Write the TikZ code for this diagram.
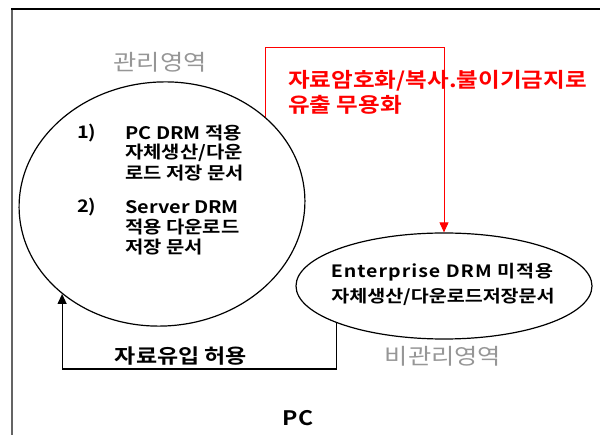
\documentclass[tikz,border=0pt]{standalone}
\usepackage{fontspec}
\usetikzlibrary{shapes.geometric,arrows.meta}
\setmainfont{Noto Sans CJK KR}[BoldFont={Noto Sans CJK KR Bold},FakeStretch=1.15]
\definecolor{zonegray}{RGB}{150,150,150}
\definecolor{framegray}{RGB}{100,100,100}
\definecolor{leakred}{RGB}{255,0,0}
\tikzset{
  zone/.style={draw, ellipse, line width=1.2pt, inner sep=0pt},
  zonelabel/.style={text=zonegray, font=\fontsize{22}{26}\selectfont, inner sep=0pt},
  doc/.style={anchor=west, font=\fontsize{17.3}{20}\selectfont\bfseries, inner sep=0pt},
  udoc/.style={font=\fontsize{17}{20}\selectfont\bfseries, inner sep=0pt},
  flow/.style={line width=1.1pt, -{Triangle[length=10pt,width=9pt]}},
}
\begin{document}
\begin{tikzpicture}[x=1pt,y=-1pt]
\useasboundingbox (0,0) rectangle (600,435);
\clip (0,0) rectangle (600,435);

% outer PC frame, running off the page at right and bottom
\coordinate (fl) at (12,440);
\coordinate (fc) at (12,9);
\coordinate (fr) at (605,9);
\draw[framegray, line width=1.5pt] (fl) -- (fc);
\draw[black, line width=1.5pt] (11.25,9) -- (fr);

% managed and unmanaged zones
\node[zone, minimum width=286pt, minimum height=244pt, rotate=4] (mgd) at (162,204) {};
\node[zone, minimum width=296pt, minimum height=106pt] (umg) at (444,286) {};

\node[zonelabel] (mgdlbl) at (160,62) {관리영역};
\node[zonelabel] (umglbl) at (443,356) {비관리영역};

% documents in the managed zone
\node[doc] (n1) at (77,133) {1)};
\node[doc] (d1a) at (125,133) {PC DRM 적용};
\node[doc] (d1b) at (125,153) {자체생산/다운};
\node[doc] (d1c) at (125,173) {로드 저장 문서};
\node[doc] (n2) at (77,207) {2)};
\node[doc] (d2a) at (125,207) {Server DRM};
\node[doc] (d2b) at (125,227) {적용 다운로드};
\node[doc] (d2c) at (125,247) {저장 문서};

% documents in the unmanaged zone
\node[udoc] (e1) at (442,272) {\addfontfeatures{LetterSpace=6}Enterprise DRM 미적용};
\node[udoc] (e2) at (443,297) {자체생산/다운로드저장문서};

% leakage path: managed -> unmanaged
\coordinate (rtop) at (0,47);
\draw[flow, leakred, line width=0.9pt] (mgd.36) -- (mgd.36 |- rtop) -| (umg.north);
\node[anchor=west, text=leakred, font=\fontsize{20.5}{25}\selectfont\bfseries, inner sep=0pt] (leak1) at (288,81) {자료암호화/복사.불이기금지로};
\node[anchor=west, text=leakred, font=\fontsize{20.5}{25}\selectfont\bfseries, inner sep=0pt] (leak2) at (288,105) {유출 무용화};

% inflow path: unmanaged -> managed
\coordinate (rbot) at (0,369);
\draw[flow] (umg.199) -- (umg.199 |- rbot) -| (mgd.218);
\node[font=\fontsize{20}{24}\selectfont\bfseries, inner sep=0pt] (inflow) at (181,356) {자료유입 허용};

\node[font=\fontsize{20}{24}\selectfont\bfseries, inner sep=0pt] (pc) at (298,418) {PC};
\end{tikzpicture}
\end{document}
